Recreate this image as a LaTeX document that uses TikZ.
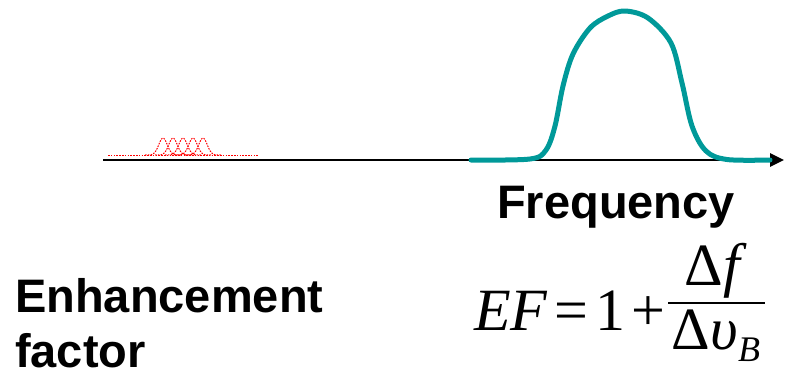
\documentclass[tikz,border=0pt]{standalone}
\usepackage{amsmath}
\usepackage{fontspec}
\usepackage{tikz}
\usetikzlibrary{arrows.meta}
\newfontfamily\labelfont{Liberation Sans}
\newfontfamily\eqfont{Liberation Serif}
\definecolor{bandteal}{RGB}{0,153,153}
\tikzset{
  label text/.style={font=\labelfont\bfseries\fontsize{47}{55}\selectfont, inner sep=0pt},
  eq text/.style={font=\eqfont\fontsize{60}{60}\selectfont, inner sep=0pt},
  pump line/.style={red, line width=1pt, dash pattern=on 1.6pt off 1.2pt}
}

\begin{document}
\begin{tikzpicture}[x=1pt, y=-1pt]
\useasboundingbox (0,0) rectangle (788,378);

% frequency axis
\coordinate (axis start) at (103,160);
\coordinate (axis end) at (784,160);
\draw[line width=2.6pt, -{Triangle[length=14pt, width=13pt]}] (axis start) -- (axis end);

% narrow pump lines
\draw[pump line] (108,155) -- (258,155);
\foreach \c in {163,173,183,193,203}
  \draw[pump line] plot[domain=\c-18:\c+18, samples=37, smooth]
    (\x, {155-17*exp(-((\x-\c)/6)^2)});

% broadened spectrum
\draw[bandteal, line width=5pt, line cap=round, line join=round]
  plot[smooth, tension=0.55] coordinates {
    (471,160) (530,159) (546,150) (555,126) (563,86) (573,54)
    (590,28) (608,16) (625,11) (648,18) (671,43) (682,83)
    (692,126) (706,151) (727,159.5) (770,160)};

\node[label text] (freq) at (616,207) {Frequency};
\node[label text, anchor=west, align=left] (ef) at (15,323) {Enhancement\\factor};

% formula, drawn as text pieces
\node[eq text, anchor=east] (lhs) at (666,311) {\textit{EF}\kern6pt=\kern8pt1\kern6pt+};
\node[eq text, anchor=south] (num) at (716,298) {Δ\textit{f}};
\node[eq text, anchor=north] (den) at (716,310) {Δ\textit{υ}\raisebox{-12pt}{\fontsize{36}{36}\selectfont\textit{B}}};
\draw[line width=2.2pt] (668,303) -- (765,303);
\end{tikzpicture}
\end{document}
